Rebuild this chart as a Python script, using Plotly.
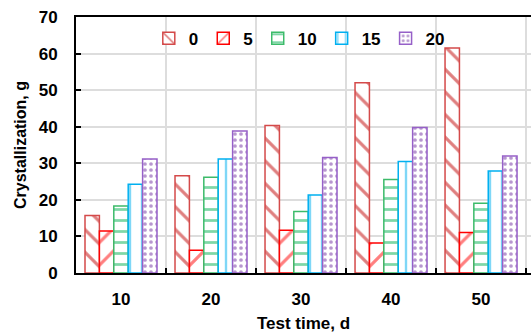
import plotly.graph_objects as go

categories = ["10", "20", "30", "40", "50"]
series_names = ["0", "5", "10", "15", "20"]
s0 = [15.7, 26.6, 40.3, 52.0, 61.5]
s5 = [11.5, 6.2, 11.7, 8.2, 11.1]
s10 = [18.3, 26.2, 16.8, 25.6, 19.1]
s15 = [24.3, 31.2, 21.3, 30.5, 27.9]
s20 = [31.2, 38.8, 31.6, 39.8, 32.0]
values = [s0, s5, s10, s15, s20]

line_colors = ["#D44A4A", "#FF0000", "#3CBB6A", "#00B0F0", "#9660C8"]
fg_colors = ["#C00000", "#FF0000", "#00B050", "#00B0F0", "#7030A0"]
shapes = ["\\", "/", "-", "|", "."]
sizes = [16, 16, 11, 12, 6]
solid = [0.2, 0.2, 0.25, 0.2, 0.3]

font_family = "Liberation Sans, Arial, sans-serif"

fig = go.Figure()
for name, vals, lc, fc, sh, sz, so in zip(series_names, values, line_colors, fg_colors, shapes, sizes, solid):
    fig.add_trace(go.Bar(
        x=categories, y=vals, name=name,
        marker=dict(color="white", line=dict(color=lc, width=1.5),
                    pattern=dict(shape=sh, fgcolor=fc, bgcolor="white", size=sz, solidity=so)),
    ))

fig.update_layout(
    width=531, height=334,
    margin=dict(l=76, r=0, t=17, b=61),
    barmode="group", bargap=0.2, bargroupgap=0,
    plot_bgcolor="white", paper_bgcolor="white",
    font=dict(family=font_family, size=17, color="black", weight="bold"),
    legend=dict(orientation="h", x=0.16, xanchor="left", y=0.915, yanchor="middle",
                bgcolor="rgba(0,0,0,0)", font=dict(size=17, weight="bold"),
                itemwidth=30, tracegroupgap=0),
    xaxis=dict(
        type="category", range=[-0.5, 4.555], tickson="boundaries",
        showgrid=True, gridcolor="#DDDDDD", gridwidth=1.5,
        ticks="inside", ticklen=5, tickwidth=2, tickcolor="black",
        showline=True, linecolor="black", linewidth=2, mirror=True,
        ticklabelstandoff=10,
        tickfont=dict(size=17, weight="bold"),
        title=dict(text="Test time, d", font=dict(size=17, weight="bold"), standoff=9),
    ),
    yaxis=dict(
        range=[0, 70], dtick=10,
        showgrid=True, gridcolor="#DDDDDD", gridwidth=1.5, zeroline=False,
        ticks="inside", ticklen=5, tickwidth=2, tickcolor="black",
        showline=True, linecolor="black", linewidth=2,
        ticklabelstandoff=13,
        tickfont=dict(size=17, weight="bold"),
        title=dict(text="Crystallization, g", font=dict(size=16, weight="bold"), standoff=8),
    ),
)

fig.write_html("out.html")
